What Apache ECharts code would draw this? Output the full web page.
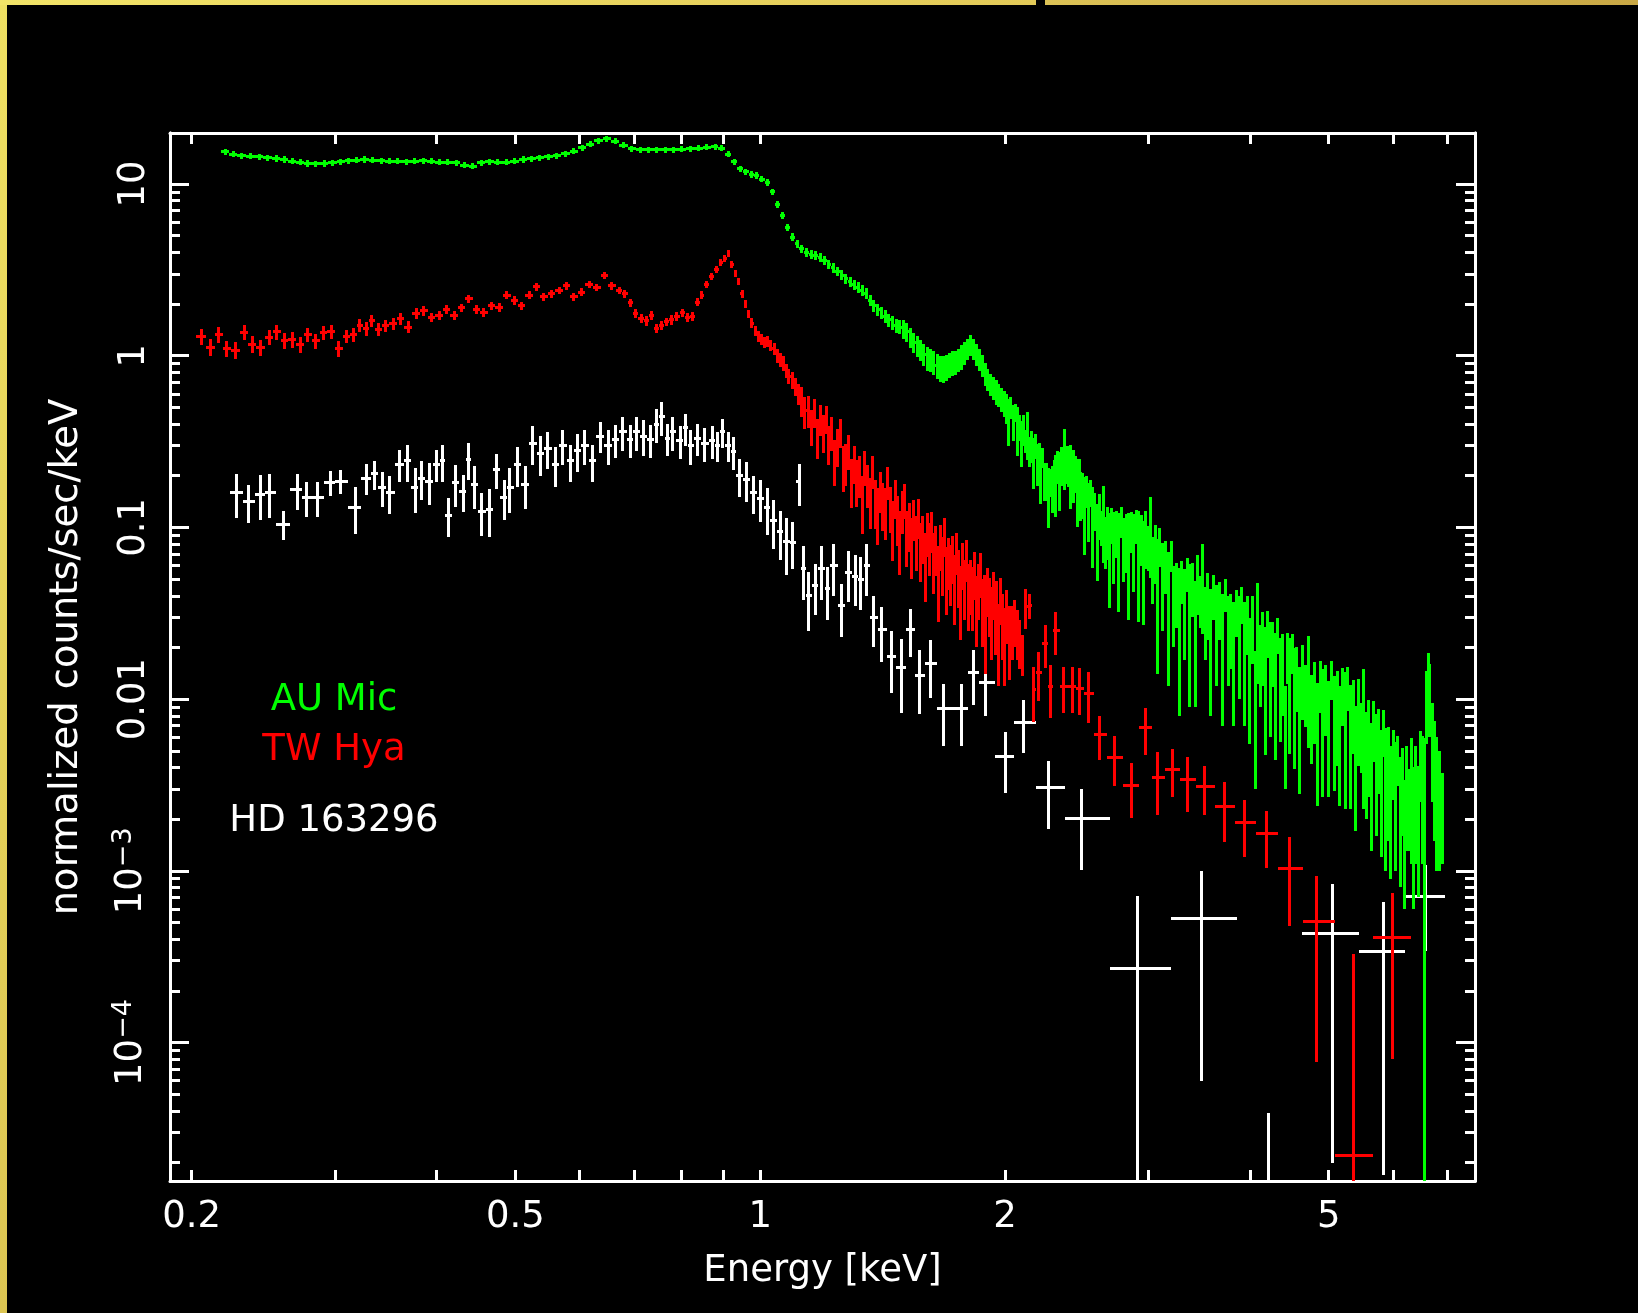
<!DOCTYPE html>
<html>
<head>
<meta charset="utf-8">
<script src="https://cdn.jsdelivr.net/npm/echarts@6.0.0/dist/echarts.min.js"></script>
<style>
html,body{margin:0;padding:0;background:#000;}
#chart{width:1638px;height:1313px;}
</style>
</head>
<body>
<div id="chart"></div>
<script>
// ---------------- axis ranges and tick values ----------------
const X_MIN = 0.1881, X_MAX = 7.566;
const Y_MIN = 1.561e-5, Y_MAX = 19.83;
const xTickValues = [0.2,0.3,0.4,0.5,0.6,0.7,0.8,0.9,1,2,3,4,5,6,7];
const xLabelValues = [0.2,0.5,1,2,5];
const xTickLabels = ['0.2','0.5','1','2','5'];
const yMajorValues = [1e-4,1e-3,0.01,0.1,1,10];
const yTickLabels = ['10{sup|\u22124}','10{sup|\u22123}','0.01','0.1','1','10'];
const yMinorValues = [2e-5,3e-5,4e-5,5e-5,6e-5,7e-5,8e-5,9e-5,
  2e-4,3e-4,4e-4,5e-4,6e-4,7e-4,8e-4,9e-4,
  2e-3,3e-3,4e-3,5e-3,6e-3,7e-3,8e-3,9e-3,
  0.02,0.03,0.04,0.05,0.06,0.07,0.08,0.09,
  0.2,0.3,0.4,0.5,0.6,0.7,0.8,0.9,
  2,3,4,5,6,7,8,9];
const seriesNames = ['HD 163296','TW Hya','AU Mic'];

// ---------------- HD 163296 (white) ----------------
const hdEnergy = [0.2271,0.2351,0.2429,0.2490,0.2594,0.2696,0.2766,0.2856,0.2964,0.3044,
  0.3179,0.3282,0.3355,0.3429,0.3506,0.3603,0.3684,0.3768,0.3832,0.3918,
  0.4004,0.4069,0.4135,0.4222,0.4312,0.4382,0.4451,0.4547,0.4644,0.4742,
  0.4845,0.4925,0.5034,0.5141,0.5255,0.5367,0.5482,0.5600,0.5722,0.5840,
  0.5970,0.6090,0.6220,0.6360,0.6500,0.6640,0.6780,0.6920,0.7040,0.7190,
  0.7340,0.7450,0.7570,0.7690,0.7810,0.7970,0.8090,0.8210,0.8380,0.8550,
  0.8730,0.8860,0.8990,0.9130,0.9260,0.9440,0.9630,0.9820,1.0010,1.0200,
  1.0390,1.0580,1.0780,1.0970,1.1170,1.1300,1.1470,1.1680,1.1900,1.2100,
  1.2300,1.2600,1.2850,1.3100,1.3300,1.3500,1.3800,1.4100,1.4500,1.4900,
  1.5300,1.5700,1.6200,1.6800,1.7700,1.8300,1.8900,2.0000,2.1060,2.2600,
  2.4800,2.9100,3.4900,4.2200,5.0600,5.8400,6.5800];
const hdCounts = [0.159,0.141,0.156,0.159,0.104,0.166,0.150,0.150,0.182,0.186,
  0.131,0.194,0.205,0.171,0.159,0.233,0.244,0.171,0.194,0.186,
  0.233,0.244,0.118,0.182,0.163,0.250,0.178,0.124,0.128,0.218,
  0.150,0.171,0.233,0.178,0.310,0.270,0.290,0.233,0.300,0.244,
  0.280,0.300,0.244,0.340,0.300,0.325,0.360,0.325,0.360,0.340,
  0.325,0.400,0.440,0.330,0.360,0.320,0.380,0.300,0.330,0.310,
  0.320,0.300,0.360,0.300,0.276,0.200,0.190,0.160,0.148,0.130,
  0.110,0.095,0.083,0.082,0.184,0.058,0.040,0.046,0.058,0.044,
  0.060,0.035,0.055,0.052,0.050,0.060,0.030,0.0254,0.0178,0.0153,
  0.0256,0.0137,0.0162,0.0088,0.0088,0.0143,0.0125,0.00464,0.00733,0.00305,
  0.00201,0.00027,0.00053,0.000003,0.00043,0.000337,0.00071];
const hdError = [0.045,0.035,0.045,0.045,0.02,0.04,0.035,0.035,0.03,0.03,
  0.04,0.04,0.04,0.04,0.04,0.05,0.06,0.05,0.05,0.05,
  0.05,0.06,0.03,0.05,0.04,0.06,0.05,0.035,0.04,0.05,
  0.04,0.05,0.06,0.05,0.08,0.07,0.07,0.06,0.07,0.06,
  0.07,0.07,0.06,0.07,0.07,0.07,0.08,0.07,0.08,0.08,
  0.07,0.09,0.10,0.07,0.08,0.07,0.08,0.07,0.07,0.07,
  0.07,0.06,0.07,0.06,0.06,0.05,0.05,0.04,0.04,0.04,
  0.035,0.03,0.03,0.025,0.05,0.02,0.015,0.015,0.02,0.015,
  0.02,0.012,0.018,0.017,0.017,0.02,0.01,0.009,0.007,0.007,
  0.008,0.0055,0.006,0.0035,0.0035,0.005,0.0045,0.0018,0.0025,0.0013,
  0.001,0.00044,0.00047,0.000036,0.00041,0.00032,0.00037];

// ---------------- TW Hya (red) ----------------
const twEnergy = [0.2055,0.2110,0.2160,0.2210,0.2265,0.2320,0.2375,0.2430,0.2490,0.2545,
  0.2600,0.2660,0.2720,0.2780,0.2840,0.2905,0.2970,0.3035,0.3100,0.3160,
  0.3220,0.3280,0.3330,0.3390,0.3460,0.3540,0.3610,0.3690,0.3780,0.3860,
  0.3945,0.4030,0.4115,0.4205,0.4295,0.4385,0.4480,0.4575,0.4675,0.4775,
  0.4880,0.4985,0.5090,0.5200,0.5310,0.5420,0.5540,0.5660,0.5780,0.5900,
  0.6030,0.6160,0.6300,0.6430,0.6570,0.6710,0.6820,0.6920,0.7030,0.7140,
  0.7250,0.7350,0.7450,0.7560,0.7680,0.7790,0.7900,0.8020,0.8140,0.8250,
  0.8370,0.8480,0.8600,0.8720,0.8840,0.8950,0.9050,0.9140,0.9230,0.9320,
  0.9410,0.9500,0.9590,0.9680,0.9770,0.9860,0.9950,1.0040,1.0130,1.0220,
  1.0310,1.0400,1.0490,1.0580,1.0670,1.0760,1.0850,1.0950,1.1050,1.1150,
  1.1250,1.1350,1.1450,1.1550,1.1650,1.1750,1.1850,1.1950,1.2050,1.2150,
  1.2250,1.2350,1.2450,1.2550,1.2650,1.2750,1.2850,1.2950,1.3050,1.3150,
  1.3250,1.3350,1.3450,1.3550,1.3650,1.3750,1.3850,1.3950,1.4050,1.4150,
  1.4250,1.4350,1.4450,1.4550,1.4650,1.4750,1.4850,1.4950,1.5050,1.5150,
  1.5250,1.5350,1.5450,1.5550,1.5650,1.5750,1.5850,1.5950,1.6050,1.6150,
  1.6250,1.6350,1.6450,1.6550,1.6650,1.6750,1.6850,1.6950,1.7050,1.7150,
  1.7250,1.7350,1.7450,1.7550,1.7650,1.7750,1.7850,1.7950,1.8050,1.8150,
  1.8250,1.8350,1.8450,1.8550,1.8650,1.8750,1.8850,1.8950,1.9050,1.9150,
  1.9250,1.9350,1.9450,1.9550,1.9650,1.9750,1.9850,1.9950,2.0100,2.0250,
  2.0400,2.0550,2.0700,2.0850,2.1000,2.1200,2.1450,2.1700,2.2000,2.2400,
  2.2750,2.3100,2.3600,2.4200,2.4700,2.5300,2.6100,2.7300,2.8600,2.9800,
  3.0800,3.2100,3.3500,3.5200,3.7200,3.9400,4.1900,4.4700,4.8300,5.3600,
  5.9900];
const twCounts = [1.29,1.12,1.33,1.10,1.08,1.37,1.17,1.12,1.28,1.38,
  1.22,1.24,1.16,1.33,1.22,1.36,1.38,1.10,1.30,1.33,
  1.50,1.44,1.60,1.43,1.50,1.54,1.65,1.47,1.76,1.83,
  1.68,1.71,1.87,1.71,1.90,2.15,1.87,1.79,1.95,1.91,
  2.25,2.10,1.95,2.25,2.52,2.20,2.30,2.40,2.55,2.20,
  2.35,2.60,2.50,2.95,2.55,2.40,2.30,2.03,1.76,1.65,
  1.60,1.72,1.44,1.50,1.58,1.62,1.70,1.78,1.68,1.70,
  2.05,2.25,2.60,2.90,3.20,3.50,3.70,3.95,3.40,3.00,
  2.70,2.30,2.00,1.75,1.55,1.40,1.30,1.25,1.20,1.22,
  1.15,1.10,1.00,0.95,0.90,0.82,0.76,0.72,0.66,0.60,
  0.55,0.475,0.48,0.39,0.47,0.34,0.43,0.36,0.43,0.31,
  0.36,0.25,0.30,0.36,0.23,0.24,0.28,0.19,0.24,0.19,
  0.205,0.146,0.226,0.18,0.146,0.215,0.144,0.124,0.165,0.138,
  0.127,0.185,0.133,0.103,0.15,0.115,0.089,0.127,0.146,0.092,
  0.105,0.082,0.114,0.086,0.116,0.077,0.089,0.065,0.094,0.079,
  0.097,0.067,0.077,0.053,0.080,0.064,0.090,0.054,0.065,0.057,
  0.068,0.048,0.073,0.054,0.041,0.062,0.047,0.066,0.043,0.048,
  0.042,0.055,0.036,0.045,0.055,0.035,0.038,0.029,0.044,0.037,
  0.031,0.042,0.031,0.036,0.024,0.039,0.029,0.023,0.032,0.024,
  0.026,0.029,0.025,0.022,0.0187,0.0346,0.0351,0.0114,0.0143,0.0211,
  0.0118,0.0250,0.0118,0.0118,0.0116,0.0108,0.0062,0.0046,0.00313,0.0068,
  0.0035,0.0039,0.0034,0.0031,0.00237,0.0019,0.00164,0.00103,0.000507,0.000022,
  0.00041];
const twError = [0.14,0.13,0.14,0.12,0.12,0.14,0.13,0.12,0.13,0.14,
  0.13,0.13,0.12,0.13,0.12,0.13,0.13,0.12,0.12,0.12,
  0.13,0.13,0.13,0.12,0.12,0.12,0.13,0.12,0.13,0.13,
  0.10,0.10,0.11,0.10,0.11,0.12,0.11,0.10,0.11,0.11,
  0.12,0.12,0.11,0.12,0.13,0.12,0.12,0.12,0.13,0.12,
  0.12,0.13,0.13,0.14,0.13,0.12,0.12,0.11,0.10,0.10,
  0.10,0.10,0.09,0.09,0.09,0.10,0.10,0.10,0.10,0.10,
  0.11,0.12,0.13,0.14,0.15,0.16,0.17,0.18,0.16,0.14,
  0.13,0.12,0.11,0.10,0.10,0.09,0.09,0.09,0.09,0.09,
  0.09,0.09,0.09,0.09,0.09,0.08,0.08,0.08,0.08,0.08,
  0.11,0.10,0.10,0.09,0.09,0.09,0.09,0.09,0.08,0.08,
  0.08,0.075,0.075,0.07,0.07,0.065,0.065,0.06,0.06,0.058,
  0.056,0.054,0.052,0.05,0.048,0.047,0.046,0.045,0.044,0.043,
  0.042,0.041,0.04,0.039,0.038,0.037,0.036,0.035,0.034,0.033,
  0.033,0.032,0.031,0.030,0.030,0.029,0.028,0.028,0.027,0.027,
  0.026,0.026,0.025,0.025,0.024,0.024,0.023,0.023,0.022,0.022,
  0.021,0.021,0.020,0.020,0.019,0.019,0.018,0.018,0.018,0.017,
  0.017,0.017,0.016,0.016,0.016,0.015,0.015,0.015,0.014,0.014,
  0.014,0.013,0.013,0.013,0.012,0.012,0.012,0.011,0.011,0.011,
  0.009,0.009,0.008,0.007,0.005,0.009,0.006,0.004,0.0045,0.006,
  0.004,0.007,0.0035,0.0035,0.0035,0.0035,0.0018,0.0015,0.0011,0.0021,
  0.0014,0.0012,0.0012,0.0010,0.0009,0.0007,0.0006,0.00055,0.00043,0.000306,
  0.00033];

// ---------------- AU Mic (green) ----------------
const auEnergy = [0.220,0.225,0.230,0.236,0.242,0.248,0.254,0.260,0.266,0.272,
  0.278,0.284,0.291,0.298,0.305,0.312,0.319,0.326,0.334,0.342,
  0.350,0.358,0.367,0.376,0.385,0.394,0.403,0.413,0.423,0.433,
  0.443,0.454,0.465,0.476,0.487,0.499,0.511,0.523,0.536,0.549,
  0.562,0.576,0.590,0.604,0.618,0.633,0.648,0.663,0.679,0.695,
  0.712,0.729,0.746,0.764,0.782,0.801,0.820,0.840,0.860,0.880,
  0.897,0.914,0.930,0.945,0.960,0.975,0.990,1.005,1.020,1.035,
  1.050,1.065,1.080,1.095,1.110,1.125,1.140,1.155,1.170,1.185,
  1.200,1.215,1.230,1.245,1.260,1.275,1.290,1.305,1.320,1.335,
  1.350,1.365,1.380,1.395,1.410,1.425,1.440,1.455,1.470,1.485,
  1.500,1.515,1.530,1.545,1.560,1.575,1.590,1.605,1.620,1.635,
  1.650,1.665,1.680,1.695,1.710,1.725,1.740,1.755,1.770,1.785,
  1.800,1.815,1.830,1.845,1.860,1.875,1.890,1.905,1.920,1.935,
  1.950,1.965,1.980,1.995,
  2.010,2.022,2.034,2.046,2.058,2.070,2.082,2.094,2.106,2.118,
  2.130,2.142,2.154,2.166,2.178,2.190,2.202,2.214,2.226,2.238,
  2.250,2.262,2.274,2.286,2.298,2.310,2.322,2.334,2.346,2.358,
  2.370,2.382,2.394,2.406,2.418,2.430,2.442,2.454,2.466,2.478,
  2.490,2.505,2.520,2.535,2.550,2.565,2.580,2.595,2.610,2.625,
  2.640,2.655,2.670,2.685,2.700,2.720,2.740,2.760,2.780,2.800,
  2.820,2.840,2.860,2.880,2.900,2.920,2.940,2.960,2.980,3.000,
  3.020,3.040,3.060,3.080,3.100,3.125,3.150,3.175,3.200,3.225,
  3.250,3.275,3.300,3.325,3.350,3.375,3.400,3.425,3.450,3.475,
  3.500,3.525,3.550,3.580,3.610,3.640,3.670,3.700,3.730,3.760,
  3.790,3.820,3.850,3.880,3.910,3.940,3.970,4.000,4.030,4.060,
  4.090,4.120,4.150,4.180,4.210,4.240,4.270,4.300,4.330,4.360,
  4.390,4.420,4.450,4.480,4.510,4.540,4.570,4.600,4.640,4.680,
  4.720,4.760,4.800,4.840,4.880,4.920,4.960,5.000,5.040,5.080,
  5.120,5.160,5.200,5.240,5.280,5.320,5.360,5.400,5.440,5.480,
  5.520,5.560,5.600,5.640,5.680,5.720,5.760,5.800,5.840,5.880,
  5.920,5.960,6.000,6.040,6.080,6.120,6.160,6.200,6.240,6.280,
  6.320,6.360,6.400,6.440,6.480,6.520,6.555,6.600,6.630,6.660,
  6.700,6.740,6.790,6.850,6.910];
const auCounts = [15.4,14.9,14.6,14.5,14.4,14.2,14.1,13.9,13.6,13.4,
  13.2,13.1,13.2,13.3,13.5,13.7,13.8,13.9,13.8,13.7,
  13.6,13.6,13.5,13.6,13.7,13.6,13.4,13.4,13.3,12.9,
  12.7,13.3,13.5,13.4,13.4,13.6,13.9,14.0,14.2,14.4,
  14.6,15.0,15.5,16.3,17.1,17.9,18.4,17.8,16.8,16.1,
  15.8,15.9,15.8,15.8,15.9,16.0,16.1,16.2,16.4,16.5,
  16.2,14.9,13.5,12.3,11.8,11.4,11.2,10.7,10.2,9.0,
  7.6,6.6,5.6,4.9,4.5,4.2,4.0,3.9,3.85,3.75,
  3.6,3.4,3.25,3.1,2.95,2.8,2.7,2.6,2.5,2.4,
  2.3,2.1,1.95,1.85,1.78,1.7,1.62,1.56,1.5,1.47,
  1.44,1.38,1.28,1.2,1.14,1.08,1.02,0.97,0.95,0.92,
  0.88,0.85,0.84,0.86,0.89,0.91,0.92,0.95,0.99,1.04,
  1.10,1.16,1.10,1.02,0.95,0.88,0.79,0.73,0.68,0.65,
  0.62,0.59,0.56,0.53,
  0.50,0.43,0.50,0.42,0.47,0.38,0.385,0.32,0.375,0.32,
  0.36,0.28,0.30,0.25,0.30,0.24,0.26,0.21,0.255,0.19,
  0.19,0.16,0.185,0.175,0.215,0.19,0.23,0.20,0.235,0.245,
  0.27,0.24,0.235,0.215,0.23,0.21,0.21,0.175,0.215,0.16,
  0.160,0.133,0.165,0.132,0.160,0.115,0.127,0.093,0.121,0.101,
  0.118,0.086,0.098,0.078,0.105,0.085,0.095,0.077,0.109,0.081,
  0.087,0.075,0.097,0.081,0.103,0.076,0.089,0.068,0.091,0.079,
  0.101,0.062,0.075,0.050,0.079,0.053,0.062,0.042,0.069,0.040,
  0.044,0.033,0.050,0.037,0.054,0.035,0.046,0.029,0.050,0.039,
  0.052,0.031,0.038,0.026,0.041,0.029,0.035,0.024,0.041,0.026,
  0.028,0.022,0.033,0.025,0.036,0.022,0.029,0.0175,0.028,0.011,
  0.030,0.018,0.022,0.0155,0.025,0.017,0.020,0.0144,0.024,0.0141,
  0.016,0.0075,0.0183,0.0138,0.0189,0.0119,0.0143,0.0091,0.0142,0.0114,
  0.0143,0.0090,0.0110,0.0074,0.0125,0.0088,0.0109,0.0077,0.0133,0.0083,
  0.0093,0.0072,0.0111,0.0083,0.0119,0.0072,0.0089,0.0054,0.0086,0.0066,
  0.0086,0.0052,0.0063,0.0043,0.0070,0.0049,0.0058,0.0039,0.0066,0.0039,
  0.0042,0.0031,0.0046,0.0033,0.0046,0.0027,0.0034,0.0020,0.0033,0.0026,
  0.0035,0.0023,0.0032,0.0024,0.0045,0.0036,0.0014,0.0100,0.0125,0.0110,
  0.0060,0.0045,0.0035,0.0030,0.0024];
const auError = [0.62,0.62,0.6,0.6,0.6,0.59,0.59,0.58,0.57,0.56,
  0.56,0.55,0.55,0.56,0.56,0.57,0.57,0.57,0.57,0.57,
  0.56,0.56,0.56,0.56,0.57,0.56,0.56,0.56,0.55,0.54,
  0.54,0.55,0.56,0.56,0.56,0.56,0.57,0.57,0.58,0.58,
  0.6,0.61,0.62,0.65,0.68,0.7,0.72,0.7,0.68,0.65,
  0.64,0.64,0.64,0.64,0.64,0.65,0.65,0.65,0.66,0.66,
  0.65,0.6,0.56,0.52,0.5,0.49,0.48,0.47,0.45,0.42,
  0.34,0.31,0.28,0.26,0.25,0.24,0.23,0.23,0.23,0.23,
  0.22,0.21,0.21,0.2,0.19,0.19,0.18,0.18,0.18,0.17,
  0.17,0.16,0.16,0.15,0.15,0.15,0.14,0.14,0.14,0.14,
  0.18,0.18,0.17,0.16,0.16,0.15,0.15,0.15,0.15,0.15,
  0.15,0.15,0.15,0.15,0.15,0.15,0.15,0.15,0.16,0.16,
  0.16,0.16,0.16,0.15,0.14,0.13,0.12,0.11,0.10,0.10,
  0.10,0.09,0.09,0.09,
  0.1,0.13,0.074,0.10,0.057,0.12,0.067,0.094,0.077,0.05,
  0.113,0.056,0.064,0.083,0.048,0.066,0.051,0.073,0.034,0.048,
  0.048,0.061,0.034,0.054,0.033,0.075,0.050,0.075,0.061,0.047,
  0.104,0.060,0.062,0.087,0.046,0.071,0.051,0.074,0.035,0.051,
  0.048,0.064,0.035,0.050,0.028,0.057,0.032,0.044,0.036,0.023,
  0.056,0.029,0.033,0.044,0.025,0.038,0.029,0.045,0.022,0.033,
  0.033,0.046,0.026,0.039,0.023,0.048,0.029,0.041,0.034,0.023,
  0.050,0.026,0.028,0.036,0.020,0.028,0.021,0.030,0.014,0.020,
  0.018,0.025,0.014,0.020,0.012,0.026,0.016,0.020,0.019,0.013,
  0.028,0.014,0.016,0.018,0.012,0.017,0.013,0.017,0.009,0.014,
  0.013,0.015,0.010,0.015,0.0087,0.015,0.011,0.012,0.012,0.008,
  0.0177,0.009,0.010,0.0108,0.0077,0.011,0.0082,0.0100,0.0057,0.0085,
  0.008,0.0045,0.006,0.009,0.0049,0.0080,0.0059,0.0063,0.0066,0.0045,
  0.0091,0.0048,0.0055,0.0050,0.0042,0.0061,0.0048,0.0050,0.0034,0.0054,
  0.0052,0.0048,0.0041,0.0060,0.0034,0.0049,0.0041,0.0037,0.0045,0.0029,
  0.0063,0.0032,0.0036,0.0030,0.0027,0.0033,0.0030,0.0027,0.0020,0.0029,
  0.0027,0.0022,0.0020,0.0023,0.0015,0.0019,0.0018,0.0014,0.0020,0.0013,
  0.0024,0.0017,0.0021,0.0017,0.0020,0.0025,0.0045,0.0045,0.006,0.005,
  0.0035,0.003,0.0025,0.002,0.0013];

// ---------------- build items: [E, counts, err, binLo, binHi] ----------------
function buildItems(E, Y, ERR) {
  const n = E.length, out = [];
  for (let i = 0; i < n; i++) {
    const lo = i > 0 ? (E[i - 1] + E[i]) / 2 : E[i] - (E[i + 1] - E[i]) / 2;
    const hi = i < n - 1 ? (E[i] + E[i + 1]) / 2 : E[i] + (E[i] - E[i - 1]) / 2;
    out.push([E[i], Y[i], ERR[i], lo, hi]);
  }
  return out;
}

const LW = 3;
const snap = (v) => Math.round(v - 0.5) + 0.5;

function makeRender(color) {
  return function (params, api) {
    const cs = params.coordSys;
    const left = cs.x, right = cs.x + cs.width, top = cs.y, bottom = cs.y + cs.height;
    const e = api.value(0), v = api.value(1), err = api.value(2), lo = api.value(3), hi = api.value(4);
    const vv = v > 0 ? v : Y_MIN * 1e-3;
    const c = api.coord([e, vv]);
    const upY = api.coord([e, v + err])[1];
    const lowV = v - err;
    const dnY = lowV > 0 ? api.coord([e, lowV])[1] : bottom + 100;
    const xl = api.coord([lo, vv])[0], xr = api.coord([hi, vv])[0];
    const cy = (y) => Math.min(bottom, Math.max(top, y));
    const cx = (x) => Math.min(right, Math.max(left, x));
    const children = [];
    const y1 = Math.round(cy(upY)), y2 = Math.round(cy(dnY));
    const px = snap(c[0]);
    if (c[0] >= left && c[0] <= right && y2 - y1 >= 1) {
      children.push({type: 'line', shape: {x1: px, y1: y1, x2: px, y2: y2},
        style: {stroke: color, lineWidth: LW, lineCap: 'butt'}});
    }
    if (c[1] >= top && c[1] <= bottom) {
      const py = snap(c[1]);
      children.push({type: 'line', shape: {x1: Math.round(cx(xl)), y1: py, x2: Math.round(cx(xr)), y2: py},
        style: {stroke: color, lineWidth: LW, lineCap: 'butt'}});
    }
    return {type: 'group', children: children};
  };
}

const FONT = 'DejaVu Sans';
const WHITE = '#ffffff';
const lineStyle = {color: WHITE, width: 3};

function findLabel(values, labels, v) {
  for (let i = 0; i < values.length; i++) {
    if (Math.abs(Math.log10(values[i]) - Math.log10(v)) < 1e-6) return labels[i];
  }
  return '';
}

function xAxisDef(position, showLabel) {
  return {
    type: 'log', logBase: 10, min: X_MIN, max: X_MAX, position: position,
    axisLine: {show: true, onZero: false, lineStyle: lineStyle},
    axisTick: {show: true, inside: true, length: 11, lineStyle: lineStyle, customValues: xTickValues},
    axisLabel: showLabel ? {
      show: true, customValues: xLabelValues, color: WHITE, fontSize: 37, fontFamily: FONT, margin: 18,
      formatter: (v) => findLabel(xLabelValues, xTickLabels, v)
    } : {show: false},
    splitLine: {show: false}, minorTick: {show: false}, minorSplitLine: {show: false},
    name: showLabel ? 'Energy [keV]' : '', nameLocation: 'middle', nameGap: 72,
    nameTextStyle: {color: WHITE, fontSize: 37, fontFamily: FONT}
  };
}

function yAxisDef(position, major, showLabel) {
  const def = {
    type: 'log', logBase: 10, min: Y_MIN, max: Y_MAX, position: position,
    axisLine: {show: true, onZero: false, lineStyle: lineStyle},
    axisTick: {show: true, inside: true, length: major ? 19 : 10, lineStyle: lineStyle,
      customValues: major ? yMajorValues : yMinorValues},
    axisLabel: {show: false},
    splitLine: {show: false}, minorTick: {show: false}, minorSplitLine: {show: false}
  };
  if (showLabel) {
    def.axisLabel = {
      show: true, customValues: yMajorValues, rotate: 90, color: WHITE, fontSize: 37, fontFamily: FONT,
      margin: 17,
      formatter: (v) => findLabel(yMajorValues, yTickLabels, v),
      rich: {sup: {fontSize: 27, fontFamily: FONT, color: WHITE, padding: [0, 0, 16, 0], verticalAlign: 'bottom'}}
    };
    def.name = 'normalized counts/sec/keV';
    def.nameLocation = 'middle';
    def.nameGap = 84;
    def.nameTextStyle = {color: WHITE, fontSize: 38.5, fontFamily: FONT};
  }
  return def;
}

const chart = echarts.init(document.getElementById('chart'), null, {renderer: 'canvas'});
const option = {
  backgroundColor: '#000000',
  animation: false,
  grid: {left: 170, top: 133, width: 1305, height: 1048, containLabel: false, outerBoundsMode: 'none'},
  xAxis: [xAxisDef('bottom', true), xAxisDef('top', false)],
  yAxis: [yAxisDef('left', true, true), yAxisDef('left', false, false),
          yAxisDef('right', true, false), yAxisDef('right', false, false)],
  series: [
    {name: seriesNames[0], type: 'custom', coordinateSystem: 'cartesian2d', xAxisIndex: 0, yAxisIndex: 0,
     renderItem: makeRender('#ffffff'), data: buildItems(hdEnergy, hdCounts, hdError),
     encode: {x: 0, y: 1}, silent: true, clip: false},
    {name: seriesNames[1], type: 'custom', coordinateSystem: 'cartesian2d', xAxisIndex: 0, yAxisIndex: 0,
     renderItem: makeRender('#ff0000'), data: buildItems(twEnergy, twCounts, twError),
     encode: {x: 0, y: 1}, silent: true, clip: false},
    {name: seriesNames[2], type: 'custom', coordinateSystem: 'cartesian2d', xAxisIndex: 0, yAxisIndex: 0,
     renderItem: makeRender('#00ff00'), data: buildItems(auEnergy, auCounts, auError),
     encode: {x: 0, y: 1}, silent: true, clip: false}
  ],
  graphic: [
    {type: 'rect', shape: {x: 0, y: 0, width: 7, height: 1313}, silent: true,
     style: {fill: {type: 'linear', x: 0, y: 0, x2: 0, y2: 1,
       colorStops: [{offset: 0, color: '#efe062'}, {offset: 1, color: '#dcc552'}]}}},
    {type: 'rect', shape: {x: 0, y: 0, width: 1036, height: 5}, silent: true,
     style: {fill: {type: 'linear', x: 0, y: 0, x2: 1, y2: 0,
       colorStops: [{offset: 0, color: '#f2e468'}, {offset: 1, color: '#e3ca58'}]}}},
    {type: 'rect', shape: {x: 1045, y: 0, width: 593, height: 5}, silent: true,
     style: {fill: {type: 'linear', x: 0, y: 0, x2: 1, y2: 0,
       colorStops: [{offset: 0, color: '#dcc255'}, {offset: 1, color: '#c9a845'}]}}},
    {type: 'text', x: 334, y: 682, silent: true,
     style: {text: seriesNames[2], fill: '#00ff00', fontSize: 37, fontFamily: FONT, align: 'center', verticalAlign: 'top'}},
    {type: 'text', x: 334, y: 732, silent: true,
     style: {text: seriesNames[1], fill: '#ff0000', fontSize: 37, fontFamily: FONT, align: 'center', verticalAlign: 'top'}},
    {type: 'text', x: 334, y: 803, silent: true,
     style: {text: seriesNames[0], fill: '#ffffff', fontSize: 37, fontFamily: FONT, align: 'center', verticalAlign: 'top'}}
  ]
};
chart.setOption(option);
</script>
</body>
</html>
